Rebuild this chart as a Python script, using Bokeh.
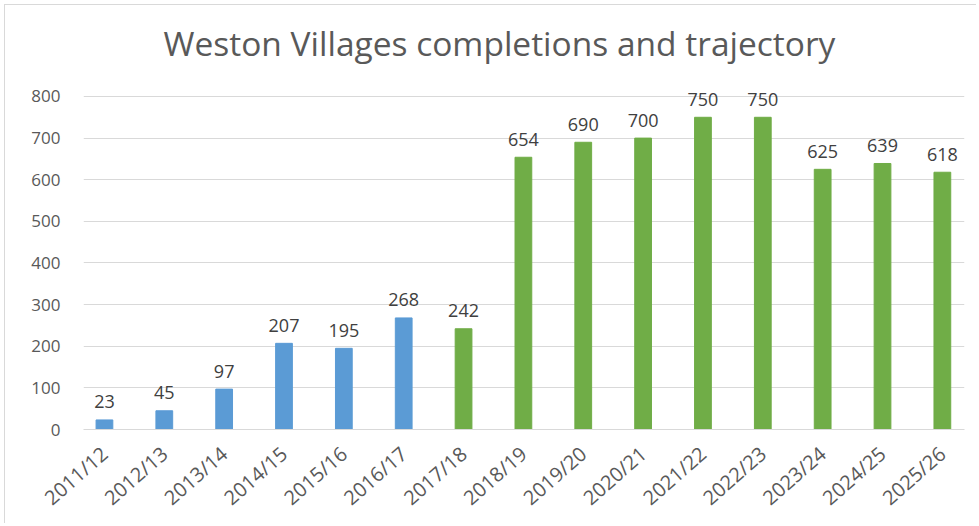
import numpy as np
from bokeh.plotting import figure
from bokeh.models import ColumnDataSource, Range1d, FixedTicker
from bokeh.embed import file_html
from bokeh.resources import INLINE
from bokeh.core.properties import value

# ---- data ----
categories = ["2011/12", "2012/13", "2013/14", "2014/15", "2015/16", "2016/17",
              "2017/18", "2018/19", "2019/20", "2020/21", "2021/22", "2022/23",
              "2023/24", "2024/25", "2025/26"]
completions = [23, 45, 97, 207, 195, 268, 242, 654, 690, 700, 750, 750, 625, 639, 618]
phase = ["actual"] * 6 + ["trajectory"] * 9
y_ticks = [0, 100, 200, 300, 400, 500, 600, 700, 800]

BLUE = "#5B9BD5"
GREEN = "#70AD47"
TEXT = "#595959"
GRID = "#D9D9D9"
FONT = "Open Sans"

xs = list(range(len(categories)))
colors = [BLUE if ph == "actual" else GREEN for ph in phase]
src = ColumnDataSource(dict(x=xs, y=completions, color=colors,
                            label=[str(v) for v in completions]))

p = figure(width=972, height=519, output_backend="svg", toolbar_location=None,
           x_range=Range1d(-0.35, 14.37), y_range=Range1d(0, 860),
           min_border_left=78, min_border_right=13, min_border_top=66,
           min_border_bottom=95,
           title="Weston Villages completions and trajectory",
           styles={"margin-left": "4px", "margin-top": "4px",
                   "border-left": "1px solid #D9D9D9", "border-top": "1px solid #D9D9D9"})

p.outline_line_color = None
p.title.align = "left"
p.title.offset = 80
p.title.standoff = 12
p.title.text_font = FONT
p.title.text_font_size = "33.5px"
p.title.text_font_style = "normal"
p.title.text_color = TEXT

p.vbar(x="x", top="y", width=0.28, color="color", source=src)
p.text(x="x", y="y", text="label", source=src, text_align="center",
       text_baseline="alphabetic", y_offset=-18, text_font=value(FONT),
       text_font_size="18px", text_color="#404040")

# y axis
p.yaxis.ticker = FixedTicker(ticks=y_ticks)
p.yaxis.axis_line_color = None
p.yaxis.major_tick_line_color = None
p.yaxis.minor_tick_line_color = None
p.yaxis.major_label_standoff = 17
p.yaxis.major_label_text_font = FONT
p.yaxis.major_label_text_font_size = "17px"
p.yaxis.major_label_text_color = TEXT

p.ygrid.ticker = FixedTicker(ticks=y_ticks)
p.ygrid.grid_line_color = GRID
p.xgrid.grid_line_color = None

# x axis
p.xaxis.ticker = FixedTicker(ticks=xs)
p.xaxis.major_label_overrides = {i: c for i, c in zip(xs, categories)}
p.xaxis.axis_line_color = GRID
p.xaxis.major_tick_line_color = None
p.xaxis.minor_tick_line_color = None
p.xaxis.major_label_orientation = 0.72
p.xaxis.major_label_standoff = 15
p.xaxis.major_label_text_font = FONT
p.xaxis.major_label_text_font_size = "20px"
p.xaxis.major_label_text_color = TEXT

open("out.html", "w").write(file_html(p, INLINE))
